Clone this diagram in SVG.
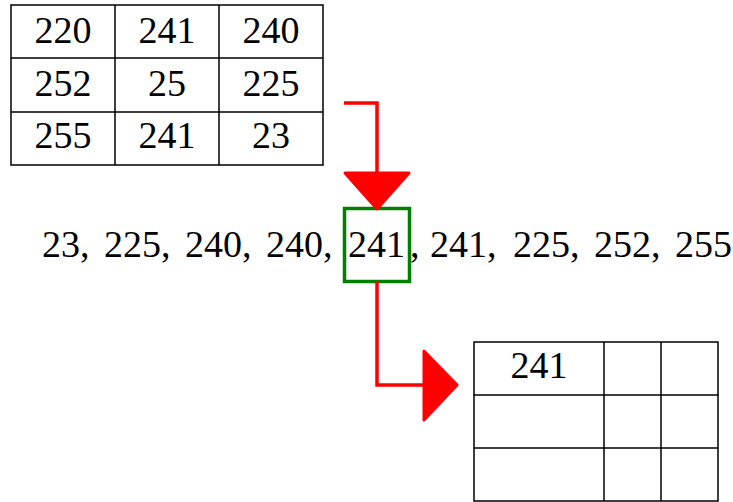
<svg xmlns="http://www.w3.org/2000/svg" width="733" height="502" viewBox="0 0 733 502" font-family="'Liberation Serif', 'Times New Roman', Times, serif">
<style>
.grid{fill:none;stroke:#000;stroke-width:1.5}
.t{font-size:38px;fill:#000}
.c{text-anchor:middle}
.red{fill:none;stroke:#f00;stroke-width:3.5}
.head{fill:#f00;stroke:#f00;stroke-width:3;stroke-linejoin:round}
</style>
<rect width="733" height="502" fill="#fff"/>
<g id="input-table">
<rect class="grid" x="11" y="5" width="312" height="160"/>
<path class="grid" d="M115 5V165M219 5V165M11 58H323M11 112H323"/>
<text class="t c" x="63" y="43">220</text>
<text class="t c" x="167" y="43">241</text>
<text class="t c" x="271" y="43">240</text>
<text class="t c" x="63" y="96">252</text>
<text class="t c" x="167" y="96">25</text>
<text class="t c" x="271" y="96">225</text>
<text class="t c" x="63" y="148">255</text>
<text class="t c" x="167" y="148">241</text>
<text class="t c" x="271" y="148">23</text>
</g>
<g id="sorted-list">
<text class="t" x="42" y="257">23,</text>
<text class="t" x="104" y="257">225,</text>
<text class="t" x="185" y="257">240,</text>
<text class="t" x="266" y="257">240,</text>
<text class="t" x="348" y="257">241</text>
<text class="t" x="410" y="257">,</text>
<text class="t" x="430" y="257">241,</text>
<text class="t" x="513" y="257">225,</text>
<text class="t" x="594" y="257">252,</text>
<text class="t" x="675" y="257">255</text>
</g>
<g id="median-box">
<rect x="344.5" y="208.5" width="65" height="73" fill="none" stroke="#008000" stroke-width="3.5"/>
</g>
<g id="output-table">
<path class="grid" d="M474 342H718V501H474Z M604 342V501M661 342V501M474 395H718M474 448H718"/>
<text class="t c" x="539" y="378">241</text>
</g>
<g id="connectors">
<path class="red" d="M344 103H377V174"/>
<polygon class="head" points="345,173 409,173 377,209"/>
<path class="red" d="M377 282V385H425"/>
<polygon class="head" points="424,351 424,420 457,385"/>
</g>
</svg>
